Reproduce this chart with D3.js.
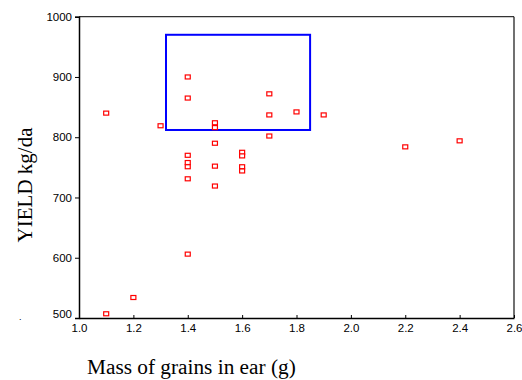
<!DOCTYPE html>
<html>
<head>
<meta charset="utf-8">
<script src="https://cdn.jsdelivr.net/npm/d3@7"></script>
<style>
  html, body { margin: 0; padding: 0; background: #fff; }
  svg { display: block; }
</style>
</head>
<body>
<svg id="chart" width="522" height="380"></svg>
<script>
// Mass of grains per ear (g) and yield (kg/da) for each sample
const massValues = [1.1, 1.1, 1.2, 1.3,
  1.4, 1.4, 1.4, 1.4, 1.4, 1.4, 1.4,
  1.5, 1.5, 1.5, 1.5, 1.5,
  1.6, 1.6, 1.6, 1.6,
  1.7, 1.7, 1.7, 1.8, 1.9, 2.2, 2.4];
const yieldValues = [840, 507, 534, 819,
  900, 865, 770, 758, 751, 731, 606,
  824, 816, 790, 752, 719,
  775, 769, 751, 744,
  872, 837, 802, 842, 837, 784, 794];

// Highlighted region (mass range and yield range)
const boxMass = [1.32, 1.85];
const boxYield = [812, 970];

const xTicks = [1.0, 1.2, 1.4, 1.6, 1.8, 2.0, 2.2, 2.4, 2.6];
const yTicks = [500, 600, 700, 800, 900, 1000];

const svg = d3.select("#chart");
const plotLeft = 79, plotRight = 514, plotTop = 16.7, plotBottom = 318;

const x = d3.scaleLinear().domain([1.0, 2.6]).range([plotLeft, plotRight]);
const y = d3.scaleLinear().domain([500, 1000]).range([plotBottom, plotTop]);

// Frame: top and right edges
svg.append("line").attr("x1", plotLeft).attr("x2", plotRight).attr("y1", plotTop).attr("y2", plotTop)
  .attr("stroke", "#333").attr("stroke-width", 1.2);
svg.append("line").attr("x1", plotRight).attr("x2", plotRight).attr("y1", plotTop).attr("y2", plotBottom)
  .attr("stroke", "#111").attr("stroke-width", 1.2);

// Y axis
const yAxis = svg.append("g").attr("transform", `translate(${plotLeft},0)`)
  .call(d3.axisLeft(y).tickValues(yTicks).tickFormat(d3.format("d")).tickSize(4).tickPadding(3));
yAxis.select(".domain").attr("stroke", "#000").attr("stroke-width", 1.5);
yAxis.selectAll(".tick line").attr("stroke", "#000");
yAxis.selectAll("text").attr("font-family", "Liberation Sans, Arial, sans-serif")
  .attr("font-size", 11.5).attr("fill", "#000");
// lowest label sits a little above its tick
yAxis.selectAll(".tick").filter(d => d === 500).select("text").attr("dy", "-0.05em");

// X axis (ticks point inward)
const xAxis = svg.append("g").attr("transform", `translate(0,${plotBottom})`)
  .call(d3.axisBottom(x).tickValues(xTicks).tickFormat(d3.format(".1f")).tickSizeInner(-3).tickSizeOuter(0).tickPadding(6));
xAxis.select(".domain").attr("stroke", "#000").attr("stroke-width", 1.5);
xAxis.selectAll(".tick line").attr("stroke", "#000");
xAxis.selectAll("text").attr("font-family", "Liberation Sans, Arial, sans-serif")
  .attr("font-size", 11.5).attr("fill", "#000");

// Highlight rectangle
svg.append("rect")
  .attr("x", x(boxMass[0])).attr("y", y(boxYield[1]))
  .attr("width", x(boxMass[1]) - x(boxMass[0]))
  .attr("height", y(boxYield[0]) - y(boxYield[1]))
  .attr("fill", "none").attr("stroke", "#0000ff").attr("stroke-width", 2);

// Data points: small open squares
const pts = massValues.map((m, i) => ({ m, v: yieldValues[i] }));
svg.append("g").selectAll("rect").data(pts).join("rect")
  .attr("x", d => x(d.m) - 2.5).attr("y", d => y(d.v) - 2)
  .attr("width", 5).attr("height", 4)
  .attr("fill", "#fff").attr("stroke", "#ff0000").attr("stroke-width", 1.2);

// Axis titles
svg.append("text")
  .attr("transform", "translate(32,185) rotate(-90)")
  .attr("text-anchor", "middle")
  .attr("font-family", "Liberation Serif, Times New Roman, serif")
  .attr("font-size", 21).attr("fill", "#000")
  .text("YIELD kg/da");

svg.append("text")
  .attr("x", 87).attr("y", 374)
  .attr("font-family", "Liberation Serif, Times New Roman, serif")
  .attr("font-size", 21.3).attr("fill", "#000")
  .text("Mass of grains in ear (g)");

svg.append("text")
  .attr("x", 19).attr("y", 320)
  .attr("font-family", "Liberation Sans, Arial, sans-serif")
  .attr("font-size", 9).attr("fill", "#000")
  .text(".");
</script>
</body>
</html>
